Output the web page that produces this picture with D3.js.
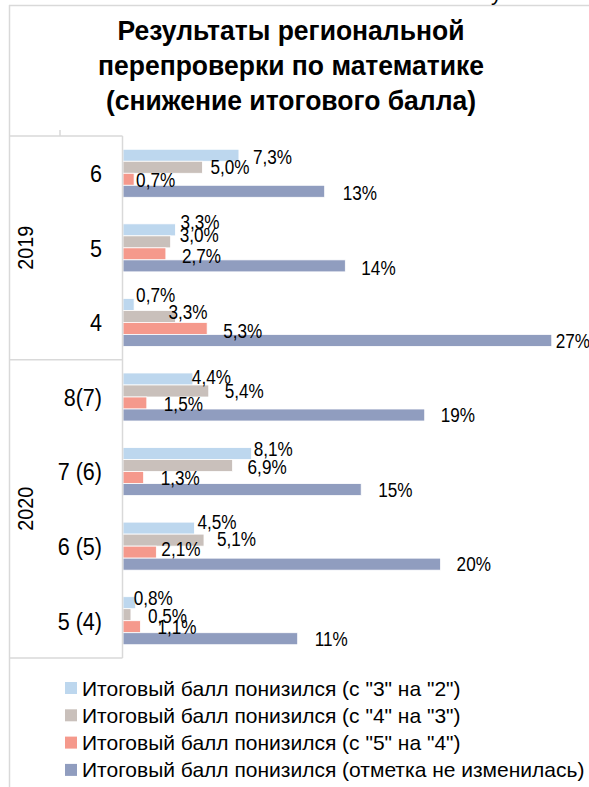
<!DOCTYPE html>
<html>
<head>
<meta charset="utf-8">
<script src="https://cdn.jsdelivr.net/npm/d3@7"></script>
<style>
  body { margin: 0; background: #fff; }
  svg { display: block; }
  text { font-family: "Liberation Sans", Arial, sans-serif; fill: #000; }
</style>
</head>
<body>
<svg id="chart" width="589" height="787"></svg>
<script>
// chart data
const titleLines = ["Результаты региональной", "перепроверки по математике", "(снижение итогового балла)"];
const years = ["2019", "2020"];
const grades2019 = ["6", "5", "4"];
const grades2020 = ["8(7)", "7 (6)", "6 (5)", "5 (4)"];
const seriesNames = [
  'Итоговый балл понизился (с "3" на "2")',
  'Итоговый балл понизился (с "4" на "3")',
  'Итоговый балл понизился (с "5" на "4")',
  'Итоговый балл понизился (отметка не изменилась)'
];
// values in %, categories top to bottom
const drop3to2 = [7.3, 3.3, 0.7, 4.4, 8.1, 4.5, 0.8];
const drop4to3 = [5.0, 3.0, 3.3, 5.4, 6.9, 5.1, 0.5];
const drop5to4 = [0.7, 2.7, 5.3, 1.5, 1.3, 2.1, 1.1];
const dropSameMark = [12.7, 14.0, 27.0, 19.0, 15.0, 20.0, 11.0];

const seriesColors = ["#BDD7EE", "#C9C0BB", "#F5998C", "#909DBF"];
// data labels were dragged by hand in the source: [dx from bar end, dy from bar centre]
const labelNudge = [
  [[14, 1.5], [5, -8], [2, -9], [-1, -2], [2, -5], [3, -6], [-2, -5]],
  [[8, 0], [9, -7], [-7, -4], [16, 0], [15, 1], [13, -1], [17, 1]],
  [[2, 1], [16, 2.5], [16, 3], [17, 0.5], [17, 0], [5, -3], [17, 0]],
  [[18, 1.5], [16, 2], [4, 1], [16, 0], [17, 0], [16, 0], [17, 0]]
];

const series = [drop3to2, drop4to3, drop5to4, dropSameMark];
const categories = [
  ...grades2019.map(g => ({ year: years[0], grade: g })),
  ...grades2020.map(g => ({ year: years[1], grade: g }))
];
categories.forEach(c => c.key = c.year + "|" + c.grade);

const svg = d3.select("#chart");
const lineColor = "#D9D9D9";
const ru = d3.formatLocale({ decimal: ",", thousands: " ", grouping: [3], currency: ["", ""] });
const fmt1 = ru.format(".1f");
const fmt0 = ru.format(".0f");

// text drawn narrower than Arial, like the source
function narrowText(parent, x, y, str, size, sx, opts = {}) {
  const g = parent.append("g")
    .attr("transform", `translate(${x},${y})${opts.rotate ? ` rotate(${opts.rotate})` : ""} scale(${sx},1)`);
  return g.append("text")
    .attr("text-anchor", opts.anchor || "start")
    .attr("dy", "0.36em")
    .style("font-size", size + "px")
    .style("font-weight", opts.weight || "normal")
    .text(str);
}

// chart frame
svg.append("line").attr("x1", 9.5).attr("x2", 9.5).attr("y1", 5).attr("y2", 787)
  .attr("stroke", lineColor).attr("stroke-width", 1.5);
svg.append("line").attr("x1", 9).attr("x2", 589).attr("y1", 5.5).attr("y2", 5.5)
  .attr("stroke", lineColor).attr("stroke-width", 1.5);
// bit of page text above the chart
svg.append("text").attr("x", 491).attr("y", 0).style("font-size", "22px").text("у");

// title
titleLines.forEach((t, i) => {
  narrowText(svg, 291, 29.5 + i * 35, t, 28.5, 0.93, { anchor: "middle", weight: "bold" });
});

// scales
const x = d3.scaleLinear().domain([0, 30]).range([123, 599.4]);
const y = d3.scaleBand().domain(categories.map(c => c.key)).range([136, 658])
  .paddingInner(0.356).paddingOuter(0.178);
const ySeries = d3.scaleBand().domain(d3.range(series.length)).range([0, y.bandwidth()]);
const step = y.step();
const plotTop = y.range()[0];

// bars
series.forEach((vals, s) => {
  svg.append("g").selectAll("rect")
    .data(vals)
    .join("rect")
    .attr("x", x(0))
    .attr("y", (v, i) => y(categories[i].key) + ySeries(s))
    .attr("width", v => x(v) - x(0))
    .attr("height", ySeries.bandwidth())
    .attr("fill", seriesColors[s])
    .attr("stroke", "#fff")
    .attr("stroke-width", 0.8);
});

// data labels
series.forEach((vals, s) => {
  const gl = svg.append("g");
  vals.forEach((v, i) => {
    const [dx, dy] = labelNudge[s][i];
    const cy = y(categories[i].key) + ySeries(s) + ySeries.bandwidth() / 2;
    const str = (s === 3 ? fmt0(v) : fmt1(v)) + "%";
    narrowText(gl, x(v) + dx, cy + dy, str, 19.5, 0.88);
  });
});

// category axis (two levels)
const axis = svg.append("g");
axis.append("line").attr("x1", 122.5).attr("x2", 122.5).attr("y1", plotTop).attr("y2", 658)
  .attr("stroke", lineColor).attr("stroke-width", 1.5);
const bounds = [plotTop];
years.forEach(yr => {
  const n = categories.filter(c => c.year === yr).length;
  bounds.push(bounds[bounds.length - 1] + n * step);
});
bounds.forEach(b => {
  axis.append("line").attr("x1", 9.5).attr("x2", 122.5).attr("y1", b).attr("y2", b)
    .attr("stroke", lineColor).attr("stroke-width", 1.5);
});
axis.append("line").attr("x1", 60).attr("x2", 60).attr("y1", plotTop - 6).attr("y2", plotTop)
  .attr("stroke", lineColor).attr("stroke-width", 1.5);

categories.forEach(c => {
  narrowText(axis, 102, y(c.key) + y.bandwidth() / 2, c.grade, 24.5, 0.88, { anchor: "end" });
});
years.forEach((yr, i) => {
  const cy = (bounds[i] + bounds[i + 1]) / 2;
  narrowText(axis, 25, cy, yr, 22.5, 0.88, { anchor: "middle", rotate: -90 });
});

// legend
const legend = svg.append("g");
seriesNames.forEach((name, i) => {
  const cy = 688 + i * 27.3;
  legend.append("rect").attr("x", 65).attr("y", cy - 6).attr("width", 12).attr("height", 12)
    .attr("fill", seriesColors[i]);
  narrowText(legend, 82, cy, name, 21, 1);
});
</script>
</body>
</html>
